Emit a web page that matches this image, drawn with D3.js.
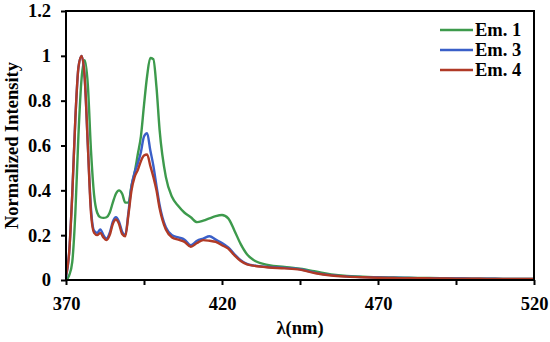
<!DOCTYPE html>
<html>
<head>
<meta charset="utf-8">
<script src="https://cdn.jsdelivr.net/npm/d3@7"></script>
<style>
  body { margin: 0; background: #fff; }
  svg text { font-family: "Times New Roman", "Liberation Serif", serif; font-weight: bold; fill: #000; }
</style>
</head>
<body>
<svg id="chart" width="550" height="342"></svg>
<script>
// wavelengths (nm)
const wavelengths = [
  370,371,372,373,374,375,376,377,378,379,380,381,382,383,384,385,386,387,388,389,
  390,391,392,393,394,395,396,397,398,399,400,
  402,404,406,408,410,412,414,416,418,420,422,424,426,428,430,
  435,440,445,450,455,460,465,470,475,480,485,490,495,500,505,510,515,520
];

const em1 = [
  0,0.02,0.08,0.30,0.65,0.90,0.98,0.87,0.58,0.38,0.30,0.28,0.277,0.28,0.30,0.345,0.385,0.40,0.385,0.345,
  0.345,0.42,0.48,0.56,0.64,0.78,0.91,0.99,0.985,0.86,0.67,
  0.46,0.37,0.33,0.30,0.28,0.258,0.265,0.275,0.285,0.29,0.275,0.22,0.16,0.115,0.09,
  0.066,0.058,0.05,0.038,0.025,0.018,0.015,0.012,0.011,0.01,0.009,0.008,0.007,0.006,0.006,0.005,0.005,0.005
];

const em3 = [
  0.01,0.12,0.38,0.72,0.95,1.0,0.9,0.6,0.32,0.22,0.21,0.226,0.2,0.185,0.21,0.26,0.28,0.26,0.215,0.2,
  0.30,0.42,0.48,0.52,0.57,0.64,0.655,0.58,0.51,0.42,0.335,
  0.235,0.2,0.19,0.18,0.155,0.175,0.185,0.195,0.18,0.165,0.145,0.115,0.088,0.072,0.065,
  0.058,0.054,0.048,0.032,0.022,0.016,0.013,0.011,0.01,0.009,0.008,0.007,0.007,0.006,0.006,0.005,0.005,0.005
];

const em4 = [
  0.02,0.12,0.38,0.72,0.95,1.0,0.9,0.6,0.30,0.21,0.2,0.21,0.19,0.178,0.2,0.25,0.27,0.25,0.205,0.195,
  0.29,0.40,0.46,0.49,0.53,0.555,0.56,0.51,0.46,0.40,0.32,
  0.225,0.19,0.18,0.17,0.148,0.165,0.178,0.175,0.17,0.155,0.14,0.11,0.085,0.07,0.064,
  0.056,0.052,0.046,0.03,0.02,0.015,0.012,0.01,0.009,0.008,0.008,0.007,0.006,0.006,0.005,0.005,0.005,0.005
];

const seriesNames = ["Em. 1", "Em. 3", "Em. 4"];
const seriesColors = ["#3d9a4c", "#3a5fc8", "#b03a26"];
const xTicks = [370, 395, 420, 445, 470, 495, 520];
const xLabels = [370, 420, 470, 520];
const yTicks = [0, 0.2, 0.4, 0.6, 0.8, 1, 1.2];

const margin = { left: 66, right: 16, top: 11, bottom: 62 };
const width = 550, height = 342;
const FONT = 18.5;

const svg = d3.select("#chart");

const x = d3.scaleLinear().domain([370, 520]).range([margin.left, width - margin.right]);
const y = d3.scaleLinear().domain([0, 1.2]).range([height - margin.bottom, margin.top]);

//series lines
const series = [em1, em3, em4].map((vals, i) => ({
  name: seriesNames[i],
  color: seriesColors[i],
  values: wavelengths.map((w, j) => ({ w, v: vals[j] }))
}));

const line = d3.line()
  .x(d => x(d.w))
  .y(d => y(d.v))
  .curve(d3.curveMonotoneX);

svg.append("g")
  .selectAll("path")
  .data(series)
  .join("path")
    .attr("fill", "none")
    .attr("stroke", d => d.color)
    .attr("stroke-width", 2.4)
    .attr("stroke-linejoin", "round")
    .attr("d", d => line(d.values));

//frame
svg.append("rect")
  .attr("x", x(370))
  .attr("y", y(1.2))
  .attr("width", x(520) - x(370))
  .attr("height", y(0) - y(1.2))
  .attr("fill", "none")
  .attr("stroke", "#000")
  .attr("stroke-width", 2);

//axes
const xAxis = d3.axisBottom(x)
  .tickValues(xTicks)
  .tickSize(5)
  .tickFormat(d => xLabels.includes(d) ? d : "");
const gx = svg.append("g")
  .attr("transform", `translate(0,${y(0)})`)
  .call(xAxis);
gx.select(".domain").remove();
gx.selectAll(".tick line").attr("stroke", "#000").attr("stroke-width", 2);
gx.selectAll(".tick text")
  .attr("font-size", FONT)
  .attr("dy", "1.2em");

const yAxis = d3.axisLeft(y)
  .tickValues(yTicks)
  .tickSize(5)
  .tickFormat(d => d3.format("~g")(d));
const gy = svg.append("g")
  .attr("transform", `translate(${x(370)},0)`)
  .call(yAxis);
gy.select(".domain").remove();
gy.selectAll(".tick line").attr("stroke", "#000").attr("stroke-width", 2);
gy.selectAll(".tick text")
  .attr("font-size", FONT)
  .attr("x", -15);
svg.selectAll(".tick text").attr("fill", "#000").attr("font-weight", "bold");
svg.selectAll("g").attr("font-family", null);

//axis titles
svg.append("text")
  .attr("x", (x(370) + x(520)) / 2)
  .attr("y", 334)
  .attr("text-anchor", "middle")
  .attr("font-size", FONT)
  .text("λ(nm)");

svg.append("text")
  .attr("transform", `translate(18,${(y(0) + y(1.2)) / 2}) rotate(-90)`)
  .attr("text-anchor", "middle")
  .attr("font-size", FONT)
  .text("Normalized Intensity");

//legend
const legend = svg.append("g")
  .selectAll("g")
  .data(series)
  .join("g")
    .attr("transform", (d, i) => `translate(440,${30 + i * 20})`);
legend.append("line")
  .attr("x1", 0).attr("x2", 33)
  .attr("stroke", d => d.color)
  .attr("stroke-width", 2.4);
legend.append("text")
  .attr("x", 35)
  .attr("y", 5.5)
  .attr("font-size", FONT)
  .text(d => d.name);
</script>
</body>
</html>
